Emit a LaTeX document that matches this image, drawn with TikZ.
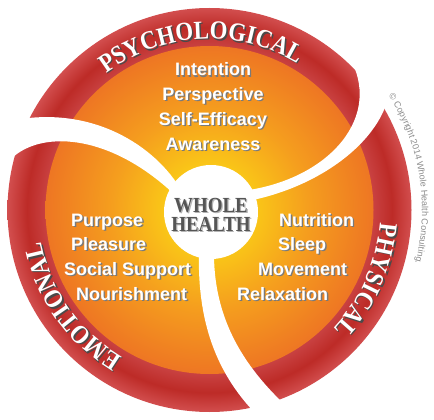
\documentclass[tikz,border=0pt]{standalone}
\usepackage{fontspec}
\setmainfont{Liberation Sans}
\newfontfamily\headfont[FakeStretch=0.88]{Liberation Serif}
\newfontfamily\itemfont{Liberation Sans}
\usetikzlibrary{decorations.text}

\definecolor{ringlight}{HTML}{D24E4E}
\definecolor{ringdark}{HTML}{BD2B27}
\definecolor{ringin}{HTML}{C94242}
\definecolor{yel}{HTML}{FBD016}
\definecolor{orgmid}{HTML}{F59E1E}
\definecolor{org}{HTML}{EE7623}
\definecolor{shadowgray}{HTML}{7A7A7A}
\definecolor{headshadow}{HTML}{4A4A4A}
\definecolor{wholegray}{HTML}{555555}
\definecolor{wholeshadow}{HTML}{B4B4B4}
\definecolor{copygray}{HTML}{8C8C8C}

\pgfdeclareradialshading{ringshade}{\pgfpoint{0bp}{0bp}}{color(0bp)=(ringin); color(20.2bp)=(ringin); color(22.6bp)=(ringdark); color(25bp)=(ringlight); color(50bp)=(ringlight)}
\pgfdeclareradialshading{orangeshade}{\pgfpoint{0bp}{0bp}}{color(0bp)=(yel); color(5bp)=(yel); color(15bp)=(orgmid); color(25bp)=(org); color(50bp)=(org)}

\tikzset{
  item/.style={font=\itemfont\bfseries\fontsize{18}{18}\selectfont, text=white, inner sep=0pt},
  itemshadow/.style={item, text=shadowgray},
  whole/.style={font=\headfont\bfseries\fontsize{21.5}{21.5}\selectfont, text=wholegray, inner sep=0pt},
  wholesh/.style={whole, text=wholeshadow},
  arm/.style={fill=white},
}
\newcommand\shadowed[4]{%
  \node[itemshadow,anchor=#2,xshift=1.3pt,yshift=-1.3pt] (#1s) at (#3) {#4};
  \node[item,anchor=#2] (#1) at (#3) {#4};}
\newcommand\curvedhead[4]{% shadow-centre, angle from, angle to, text
  \path[decorate, decoration={text along path, text align=center, text color=#4,
    text={|\headfont\bfseries\fontsize{26}{26}\selectfont|#1}}]
    ([shift={(#2:171)}]#3) arc[start angle=#2, end angle=#2-120, radius=171];}

\begin{document}
\begin{tikzpicture}[x=1pt,y=1pt]
\useasboundingbox (0,0) rectangle (434,-420);
\coordinate (C) at (209.5,-210);
\coordinate (Cs) at (211,-211.5);
\coordinate (M) at (211,-212);

% ring and disc
\shade[shading=ringshade] (C) circle[radius=202];
\shade[shading=orangeshade] (C) circle[radius=164];

% white arms
\path[arm] (180,-188) .. controls (150,-140) and (85,-105) .. (10,-121)
  -- (5,-166) .. controls (30,-130) and (105,-128) .. (176,-196) -- cycle;
\path[arm] (242,-191) .. controls (330,-180) and (385,-115) .. (348,-55)
  -- (390,-80) .. controls (392,-130) and (330,-185) .. (248,-201) -- cycle;
\path[arm] (199,-250) .. controls (197,-320) and (215,-375) .. (262,-420)
  -- (295,-414) .. controls (245,-370) and (213,-320) .. (214,-250) -- cycle;
\fill[white] (M) circle[radius=47];

% curved headings
\curvedhead{PSYCHOLOGICAL}{153}{Cs}{headshadow}
\curvedhead{PSYCHOLOGICAL}{153}{C}{white}
\curvedhead{PHYSICAL}{36}{Cs}{headshadow}
\curvedhead{PHYSICAL}{36}{C}{white}
\curvedhead{EMOTIONAL}{275}{Cs}{headshadow}
\curvedhead{EMOTIONAL}{275}{C}{white}

% copyright
\path[decorate, decoration={text along path, text align=left, text color=copygray,
  text={|\itemfont\fontsize{9}{9}\selectfont|© Copyright 2014 Whole Health Consulting.}}]
  ([shift={(32.5:212.5)}]C) arc[start angle=32.5, end angle=-40, radius=212.5];

% centre
\node[wholesh,anchor=base,xshift=1.2pt,yshift=-1.2pt] (wholes) at (211,-212) {WHOLE};
\node[whole,anchor=base] (wholet) at (211,-212) {WHOLE};
\node[wholesh,anchor=base,xshift=1.2pt,yshift=-1.2pt] (healths) at (211,-231) {HEALTH};
\node[whole,anchor=base] (health) at (211,-231) {HEALTH};

% psychological items
\shadowed{intention}{base}{213,-76}{Intention}
\shadowed{perspective}{base}{213,-100.5}{Perspective}
\shadowed{efficacy}{base}{213,-125.5}{Self-Efficacy}
\shadowed{awareness}{base}{213,-150}{Awareness}

% emotional items
\shadowed{purpose}{base west}{71,-226}{Purpose}
\shadowed{pleasure}{base west}{71,-250.5}{Pleasure}
\shadowed{social}{base west}{64,-275}{Social Support}
\shadowed{nourish}{base west}{76,-300}{Nourishment}

% physical items
\shadowed{nutrition}{base west}{279,-226}{Nutrition}
\shadowed{sleep}{base west}{278,-250.5}{Sleep}
\shadowed{movement}{base west}{258,-275}{Movement}
\shadowed{relax}{base west}{237,-300}{Relaxation}
\end{tikzpicture}
\end{document}
